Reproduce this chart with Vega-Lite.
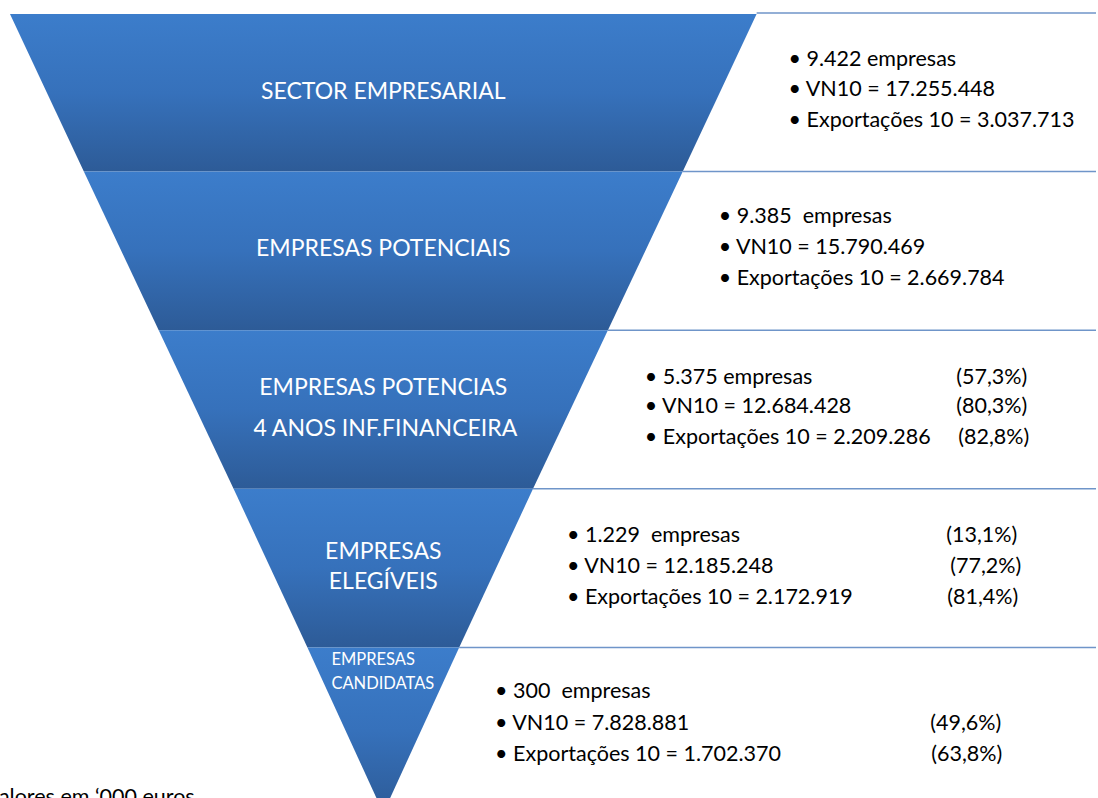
{
  "$schema": "https://vega.github.io/schema/vega-lite/v6.json",
  "width": 1098,
  "height": 798,
  "padding": 0,
  "autosize": {"type": "none"},
  "background": "white",
  "config": {"view": {"stroke": null}},
  "datasets": {
    "funnel": [
      {"band": "1", "y": 14, "xl": 10, "xr": 758},
      {"band": "1", "y": 172, "xl": 84, "xr": 684},
      {"band": "2", "y": 172, "xl": 84, "xr": 684},
      {"band": "2", "y": 331, "xl": 159, "xr": 609},
      {"band": "3", "y": 331, "xl": 159, "xr": 609},
      {"band": "3", "y": 490, "xl": 234, "xr": 534},
      {"band": "4", "y": 490, "xl": 234, "xr": 534},
      {"band": "4", "y": 649, "xl": 308, "xr": 460},
      {"band": "5", "y": 649, "xl": 308, "xr": 460},
      {"band": "5", "y": 815, "xl": 384, "xr": 384}
    ],
    "lines": [
      {"y": 13, "x": 758},
      {"y": 172, "x": 684},
      {"y": 331, "x": 609},
      {"y": 490, "x": 534},
      {"y": 649, "x": 460}
    ],
    "labels": [
      {"text": "SECTOR EMPRESARIAL", "x": 384, "y": 92},
      {"text": "EMPRESAS POTENCIAIS", "x": 384, "y": 250},
      {"text": "EMPRESAS POTENCIAS", "x": 384, "y": 389},
      {"text": "4 ANOS INF.FINANCEIRA", "x": 386, "y": 430},
      {"text": "EMPRESAS", "x": 384, "y": 553},
      {"text": "ELEGÍVEIS", "x": 384, "y": 583}
    ],
    "small": [
      {"text": "EMPRESAS", "x": 332, "y": 662},
      {"text": "CANDIDATAS", "x": 332, "y": 686}
    ],
    "info": [
      {"text": "• 9.422 empresas", "x": 790, "y": 60},
      {"text": "• VN10 = 17.255.448", "x": 790, "y": 90},
      {"text": "• Exportações 10 = 3.037.713", "x": 790, "y": 121},
      {"text": "• 9.385\u00a0 empresas", "x": 720, "y": 218},
      {"text": "• VN10 = 15.790.469", "x": 720, "y": 249},
      {"text": "• Exportações 10 = 2.669.784", "x": 720, "y": 280},
      {"text": "• 5.375 empresas", "x": 646, "y": 379},
      {"text": "• VN10 = 12.684.428", "x": 646, "y": 408},
      {"text": "• Exportações 10 = 2.209.286", "x": 646, "y": 439},
      {"text": "(57,3%)", "x": 958, "y": 379},
      {"text": "(80,3%)", "x": 958, "y": 408},
      {"text": "(82,8%)", "x": 960, "y": 439},
      {"text": "• 1.229\u00a0 empresas", "x": 568, "y": 537},
      {"text": "• VN10 = 12.185.248", "x": 568, "y": 568},
      {"text": "• Exportações 10 = 2.172.919", "x": 568, "y": 599},
      {"text": "(13,1%)", "x": 948, "y": 537},
      {"text": "(77,2%)", "x": 952, "y": 568},
      {"text": "(81,4%)", "x": 949, "y": 599},
      {"text": "• 300\u00a0 empresas", "x": 496, "y": 694},
      {"text": "• VN10 = 7.828.881", "x": 496, "y": 726},
      {"text": "• Exportações 10 = 1.702.370", "x": 496, "y": 757},
      {"text": "(49,6%)", "x": 932, "y": 726},
      {"text": "(63,8%)", "x": 933, "y": 757}
    ],
    "note": [
      {"text": "valores em ‘000 euros", "x": -12, "y": 789}
    ]
  },
  "layer": [
    {
      "data": {"name": "funnel"},
      "mark": {
        "type": "area",
        "orient": "horizontal",
        "clip": true,
        "fill": {
          "gradient": "linear",
          "x1": 0, "y1": 0, "x2": 0, "y2": 1,
          "stops": [
            {"offset": 0, "color": "#3c7dcb"},
            {"offset": 0.5, "color": "#3671bb"},
            {"offset": 1, "color": "#2d5b97"}
          ]
        },
        "strokeWidth": 0
      },
      "encoding": {
        "y": {"field": "y", "type": "quantitative", "scale": {"domain": [0, 798], "reverse": true}, "axis": null},
        "x": {"field": "xl", "type": "quantitative", "scale": {"domain": [0, 1098]}, "axis": null, "stack": null},
        "x2": {"field": "xr"},
        "detail": {"field": "band"}
      }
    },
    {
      "data": {"name": "lines"},
      "mark": {"type": "rule", "color": "#6f95c9", "strokeWidth": 1.5},
      "encoding": {
        "y": {"field": "y", "type": "quantitative"},
        "x": {"field": "x", "type": "quantitative"},
        "x2": {"datum": 1098}
      }
    },
    {
      "data": {"name": "labels"},
      "mark": {"type": "text", "align": "center", "baseline": "middle", "font": "Lato", "fontSize": 23, "color": "white"},
      "encoding": {
        "y": {"field": "y", "type": "quantitative"},
        "x": {"field": "x", "type": "quantitative"},
        "text": {"field": "text"}
      }
    },
    {
      "data": {"name": "small"},
      "mark": {"type": "text", "align": "left", "baseline": "middle", "font": "Lato", "fontSize": 16.5, "color": "white"},
      "encoding": {
        "y": {"field": "y", "type": "quantitative"},
        "x": {"field": "x", "type": "quantitative"},
        "text": {"field": "text"}
      }
    },
    {
      "data": {"name": "info"},
      "mark": {"type": "text", "align": "left", "baseline": "middle", "font": "Lato", "fontSize": 21.5, "color": "black"},
      "encoding": {
        "y": {"field": "y", "type": "quantitative"},
        "x": {"field": "x", "type": "quantitative"},
        "text": {"field": "text"}
      }
    },
    {
      "data": {"name": "note"},
      "mark": {"type": "text", "align": "left", "baseline": "top", "font": "Lato", "fontSize": 21.5, "color": "black"},
      "encoding": {
        "y": {"field": "y", "type": "quantitative"},
        "x": {"field": "x", "type": "quantitative"},
        "text": {"field": "text"}
      }
    }
  ]
}
